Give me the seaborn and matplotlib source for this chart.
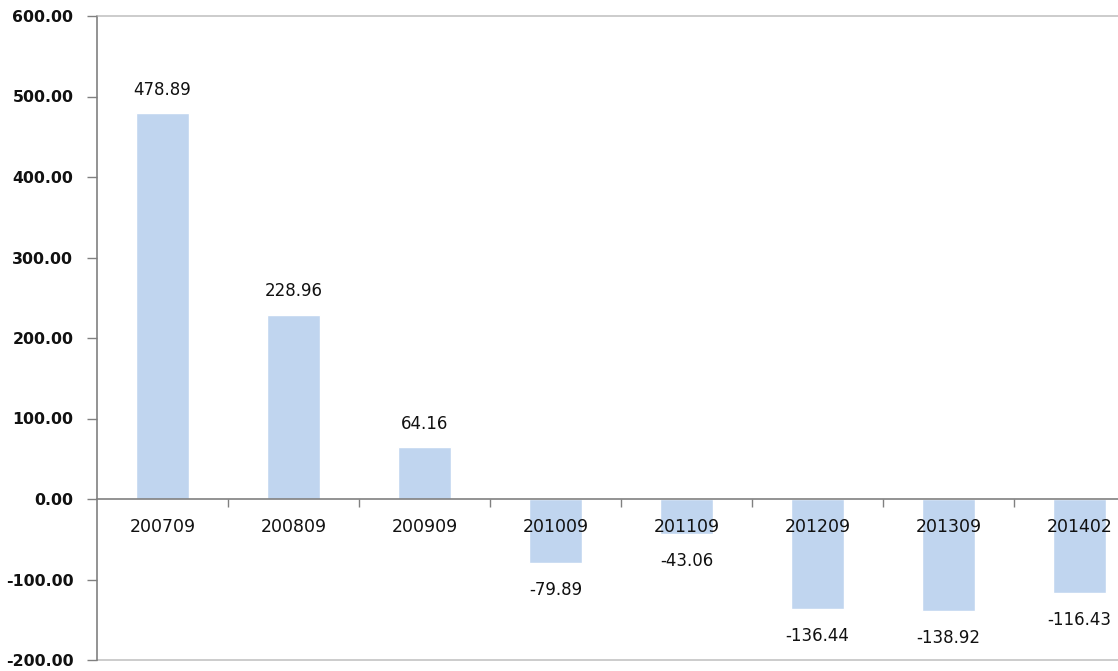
import matplotlib
matplotlib.use("Agg")
import matplotlib.pyplot as plt
import seaborn as sns
import pandas as pd
from matplotlib.ticker import FormatStrFormatter, FixedLocator

# Reporting periods and their values
periods = ["200709", "200809", "200909", "201009", "201109", "201209", "201309", "201402"]
values = [478.89, 228.96, 64.16, -79.89, -43.06, -136.44, -138.92, -116.43]
y_ticks = [-200, -100, 0, 100, 200, 300, 400, 500, 600]

df = pd.DataFrame({"period": periods, "value": values})

sns.set_theme(style="white")
plt.rcParams["font.family"] = ["DejaVu Sans"]

fig = plt.figure(figsize=(11.18, 6.71), dpi=100)
# The plot area runs slightly past the right edge of the canvas
ax = fig.add_axes([97 / 1118, 11 / 671, 1048 / 1118, 644 / 671])

bar_color = "#c0d5ef"
sns.barplot(data=df, x="period", y="value", color=bar_color, width=0.4,
            saturation=1, ax=ax, order=periods)
# Axis lines and labels drawn above the bars
ax.set_axisbelow(False)

ax.set_ylim(min(y_ticks), max(y_ticks))
ax.set_xlim(-0.5, len(periods) - 0.5)
ax.set_xlabel("")
ax.set_ylabel("")

# Y axis: two-decimal bold labels with outward ticks
ax.yaxis.set_major_locator(FixedLocator(y_ticks))
ax.yaxis.set_major_formatter(FormatStrFormatter("%.2f"))
ax.tick_params(axis="y", which="major", direction="out", length=7, width=1,
               color="#808080", labelsize=11.3, pad=10, left=True)
for lbl in ax.get_yticklabels():
    lbl.set_fontweight("bold")
    lbl.set_color("#111111")

# X axis sits on the zero line; ticks mark category boundaries
ax.spines["bottom"].set_position(("data", 0))
ax.spines["bottom"].set_color("#808080")
ax.spines["bottom"].set_linewidth(1.2)
ax.spines["left"].set_color("#808080")
ax.spines["left"].set_linewidth(1.2)
ax.spines["top"].set_color("#c4c4c4")
ax.spines["top"].set_linewidth(1.2)
ax.spines["right"].set_visible(False)

ax.set_xticks(range(len(periods)))
ax.set_xticklabels(periods)
ax.set_xticks([i + 0.5 for i in range(len(periods))], minor=True)
ax.tick_params(axis="x", which="major", length=0, labelsize=12.5, pad=14,
               labelcolor="#111111")
ax.tick_params(axis="x", which="minor", direction="out", length=6, width=1,
               color="#808080", bottom=True)
for lbl in ax.get_xticklabels():
    lbl.set_fontweight("medium")

# Lower frame line of the plot area
ax.plot([0, 1], [0, 0], transform=ax.transAxes, color="#c4c4c4", lw=1.2,
        clip_on=False)

# Value labels beyond each bar end
for i, v in enumerate(values):
    off = 17 if v >= 0 else -19.5
    ax.annotate(f"{v:.2f}", xy=(i, v), xytext=(0, off), textcoords="offset points",
                ha="center", va="center", fontsize=12, color="#111111")

fig.savefig("out.png", dpi=100)
